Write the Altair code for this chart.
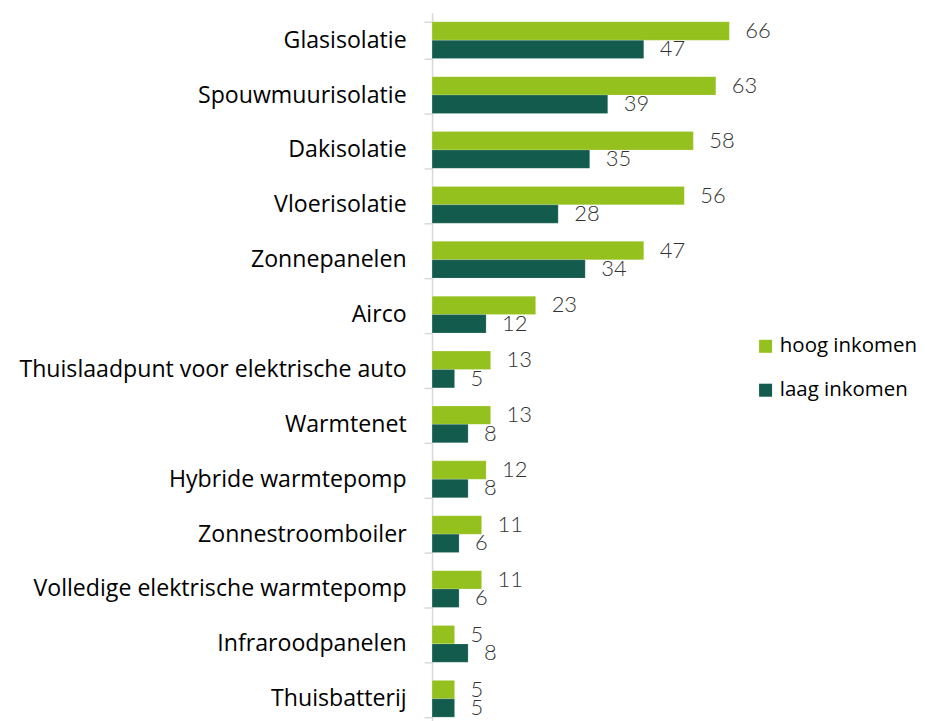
import altair as alt
import pandas as pd

categories = [
    "Glasisolatie", "Spouwmuurisolatie", "Dakisolatie", "Vloerisolatie",
    "Zonnepanelen", "Airco", "Thuislaadpunt voor elektrische auto",
    "Warmtenet", "Hybride warmtepomp", "Zonnestroomboiler",
    "Volledige elektrische warmtepomp", "Infraroodpanelen", "Thuisbatterij",
]
hoog = [66, 63, 58, 56, 47, 23, 13, 13, 12, 11, 11, 5, 5]
laag = [47, 39, 35, 28, 34, 12, 5, 8, 8, 6, 6, 8, 5]
groups = ["hoog inkomen", "laag inkomen"]
colors = ["#95C11F", "#135B4C"]

rows = []
for c, h, l in zip(categories, hoog, laag):
    rows.append({"categorie": c, "groep": groups[0], "waarde": h})
    rows.append({"categorie": c, "groep": groups[1], "waarde": l})
df = pd.DataFrame(rows)

y_enc = alt.Y(
    "categorie:N",
    sort=categories,
    title=None,
    scale=alt.Scale(paddingInner=0.33, paddingOuter=0.165),
    axis=alt.Axis(
        domainColor="#D9D9D9", domainWidth=1.5,
        tickColor="#D9D9D9", tickWidth=1.5, tickSize=8, tickBand="extent",
        labelFont="Open Sans", labelFontSize=23.2, labelColor="#000000",
        labelPadding=18, labelLimit=500,
    ),
)
yoff = alt.YOffset("groep:N", sort=groups, scale=alt.Scale(paddingInner=0, paddingOuter=0))
x_enc = alt.X("waarde:Q", axis=None, scale=alt.Scale(domain=[0, 70], nice=False))

bars = alt.Chart(df).mark_bar(stroke="white", strokeWidth=0.3, strokeOpacity=0.6).encode(
    y=y_enc,
    yOffset=yoff,
    x=x_enc,
    color=alt.Color(
        "groep:N",
        scale=alt.Scale(domain=groups, range=colors),
        legend=alt.Legend(
            title=None, orient="none", legendX=324, legendY=324,
            symbolType="square", symbolSize=170, symbolStrokeWidth=0,
            labelFont="Open Sans", labelFontSize=20.5, labelColor="#000000",
            rowPadding=23, labelOffset=4,
        ),
    ),
)
labels = alt.Chart(df).mark_text(
    align="left", baseline="middle", dx=16, font="Lato", fontSize=22,
    fontWeight=300, color="#333333",
).encode(
    y=alt.Y("categorie:N", sort=categories),
    yOffset=alt.YOffset("groep:N", sort=groups),
    x="waarde:Q",
    text="waarde:Q",
)

chart = alt.layer(bars, labels).properties(
    width=316, height=715,
    autosize=alt.AutoSizeParams(type="none"),
    padding={"top": 4, "left": 425, "right": 170, "bottom": 0},
).configure(background="white").configure_view(stroke=None)

chart.save("out.html", embed_options={"renderer": "svg", "actions": False})
